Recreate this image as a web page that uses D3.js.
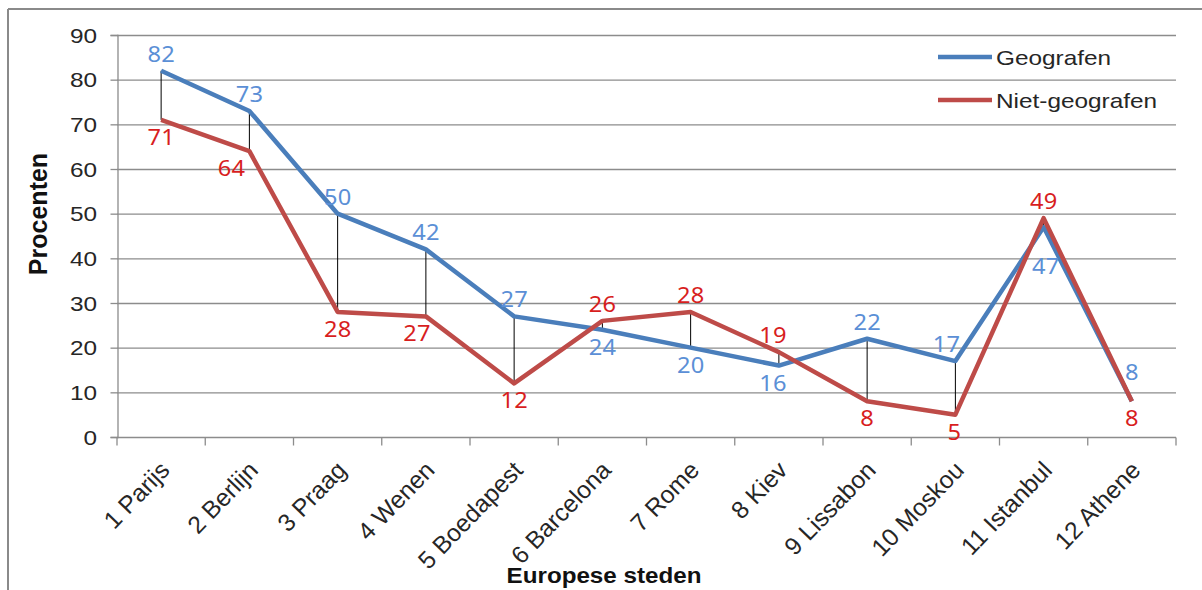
<!DOCTYPE html>
<html>
<head>
<meta charset="utf-8">
<script src="https://cdn.jsdelivr.net/npm/d3@7"></script>
<style>
  body { margin: 0; background: #fff; }
  svg { display: block; }
</style>
</head>
<body>
<svg id="chart" width="1202" height="590"></svg>
<script>
const cities = ["1 Parijs", "2 Berlijn", "3 Praag", "4 Wenen", "5 Boedapest", "6 Barcelona",
  "7 Rome", "8 Kiev", "9 Lissabon", "10 Moskou", "11 Istanbul", "12 Athene"];
const geografen = [82, 73, 50, 42, 27, 24, 20, 16, 22, 17, 47, 8];
const nietGeografen = [71, 64, 28, 27, 12, 26, 28, 19, 8, 5, 49, 8];
const seriesNames = ["Geografen", "Niet-geografen"];
const yTicks = [0, 10, 20, 30, 40, 50, 60, 70, 80, 90];

const blue = "#4a7ebb", red = "#be4b48";
const blueLabel = "#5b8fd6", redLabel = "#d81e1e";
const gridColor = "#8c8c8c";
const axisFont = "'Liberation Sans', Arial, sans-serif";
const labelFont = "'Noto Sans', 'Open Sans', sans-serif";
// the source picture is a little wider than tall, so flat text is stretched sideways
const stretch = 1.16;
// hand-moved data labels in the original (pixel nudges, [dx, dy])
const blueNudge = { 7: [-6, 0], 9: [-9, 0], 10: [2, 22], 11: [0, -12] };
const redNudge = { 1: [-18, 0], 3: [-9, 0], 7: [-6, 0], 9: [-1, 0] };

let svg = d3.select("#chart");
let margin = { top: 35, left: 117, right: 26, bottom: 153 };
let width = 1202, height = 590;

// outer chart frame (only top and left visible)
svg.append("line").attr("x1", 8).attr("x2", width).attr("y1", 9).attr("y2", 9)
  .attr("stroke", "#8a8a8a").attr("stroke-width", 2);
svg.append("line").attr("x1", 8).attr("x2", 8).attr("y1", 9).attr("y2", height)
  .attr("stroke", "#8a8a8a").attr("stroke-width", 2);

let x = d3.scaleBand().domain(cities).range([margin.left, width - margin.right]).padding(0);
let y = d3.scaleLinear().domain([0, 90]).range([height - margin.bottom, margin.top]);
let cx = (c) => x(c) + x.bandwidth() / 2;

// gridlines
svg.append("g")
  .selectAll("line")
  .data(yTicks.filter((t) => t > 0))
  .enter()
  .append("line")
  .attr("x1", margin.left)
  .attr("x2", width - margin.right)
  .attr("y1", (d) => y(d) + 0.5)
  .attr("y2", (d) => y(d) + 0.5)
  .attr("stroke", gridColor)
  .attr("stroke-width", 1.3);

// y axis
let yAxis = svg.append("g")
  .attr("transform", `translate(${margin.left + 0.5},0)`)
  .call(d3.axisLeft(y).tickValues(yTicks).tickSize(7).tickFormat(""));
yAxis.select(".domain").attr("stroke", gridColor).attr("stroke-width", 1.3);
yAxis.selectAll("line").attr("stroke", gridColor).attr("stroke-width", 1.3);
svg.append("g")
  .selectAll("text")
  .data(yTicks)
  .enter()
  .append("text")
  .attr("transform", (d) => `translate(97,${y(d)}) scale(${stretch},1)`)
  .attr("text-anchor", "end")
  .attr("dy", "0.36em")
  .attr("font-family", axisFont)
  .attr("font-size", 21)
  .attr("fill", "#262626")
  .text((d) => d);

// x axis: ticks on band boundaries
let xAxis = svg.append("g").attr("transform", `translate(0,${y(0) + 0.5})`);
xAxis.append("line")
  .attr("x1", margin.left).attr("x2", width - margin.right)
  .attr("stroke", gridColor).attr("stroke-width", 1.3);
xAxis.selectAll(".tick")
  .data(cities.concat([null]))
  .enter()
  .append("line")
  .attr("x1", (d) => (d ? x(d) : width - margin.right))
  .attr("x2", (d) => (d ? x(d) : width - margin.right))
  .attr("y1", 0).attr("y2", 8)
  .attr("stroke", gridColor).attr("stroke-width", 1.3);
xAxis.selectAll(".lab")
  .data(cities)
  .enter()
  .append("text")
  .attr("transform", (d) => `translate(${cx(d) + 10},34) rotate(-46)`)
  .attr("text-anchor", "end")
  .attr("font-family", axisFont)
  .attr("font-size", 24.5)
  .attr("fill", "#262626")
  .text((d) => d);

// axis titles
svg.append("text")
  .attr("transform", `translate(47,214) rotate(-90)`)
  .attr("text-anchor", "middle")
  .attr("font-family", axisFont)
  .attr("font-weight", "bold")
  .attr("font-size", 25)
  .attr("fill", "#111")
  .text("Procenten");
svg.append("text")
  .attr("transform", `translate(604,583) scale(1.1,1)`)
  .attr("text-anchor", "middle")
  .attr("font-family", axisFont)
  .attr("font-weight", "bold")
  .attr("font-size", 22)
  .attr("fill", "#111")
  .text("Europese steden");

// high-low lines
svg.append("g")
  .selectAll("line")
  .data(cities)
  .enter()
  .append("line")
  .attr("x1", (d) => cx(d)).attr("x2", (d) => cx(d))
  .attr("y1", (d, i) => y(geografen[i]))
  .attr("y2", (d, i) => y(nietGeografen[i]))
  .attr("stroke", "#000").attr("stroke-width", 1);

// series lines
let line = d3.line().x((d, i) => cx(cities[i])).y((d) => y(d));
svg.append("path").datum(geografen)
  .attr("d", line).attr("fill", "none")
  .attr("stroke", blue).attr("stroke-width", 4.5).attr("stroke-linejoin", "round");
svg.append("path").datum(nietGeografen)
  .attr("d", line).attr("fill", "none")
  .attr("stroke", red).attr("stroke-width", 4.5).attr("stroke-linejoin", "round");

// data labels: the higher series above, the lower below
function addLabels(values, other, color, wins, nudge) {
  svg.append("g")
    .selectAll("text")
    .data(values)
    .enter()
    .append("text")
    .attr("transform", (d, i) => {
      let [dx, dy] = nudge[i] || [0, 0];
      let ly = wins(d, other[i]) ? y(d) - 9 : y(d) + 25;
      return `translate(${cx(cities[i]) + dx},${ly + dy}) scale(1.1,1)`;
    })
    .attr("text-anchor", "middle")
    .attr("font-family", labelFont)
    .attr("font-size", 21.5)
    .attr("fill", color)
    .text((d) => d);
}
addLabels(geografen, nietGeografen, blueLabel, (a, b) => a >= b, blueNudge);
addLabels(nietGeografen, geografen, redLabel, (a, b) => a > b, redNudge);

// legend
let legend = svg.append("g");
seriesNames.forEach((name, i) => {
  let ly = 57 + i * 43;
  legend.append("line")
    .attr("x1", 938).attr("x2", 992).attr("y1", ly).attr("y2", ly)
    .attr("stroke", i === 0 ? blue : red).attr("stroke-width", 4.5);
  legend.append("text")
    .attr("transform", `translate(996,${ly + 8}) scale(${stretch},1)`)
    .attr("font-family", axisFont)
    .attr("font-size", 21)
    .attr("fill", "#262626")
    .text(name);
});
</script>
</body>
</html>
